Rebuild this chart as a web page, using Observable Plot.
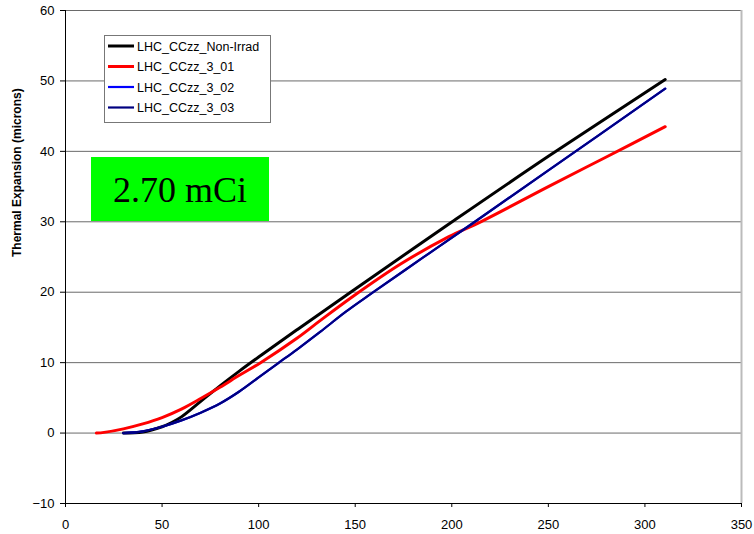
<!DOCTYPE html>
<html><head><meta charset="utf-8">
<script src="https://cdn.jsdelivr.net/npm/d3@7"></script>
<script src="https://cdn.jsdelivr.net/npm/@observablehq/plot@0.6"></script>
<style>body{margin:0;background:#fff;} svg{display:block;}</style>
</head><body><div id="chart"></div>
<script>
// Series names (legend order)
const seriesNames = ["LHC_CCzz_Non-Irrad", "LHC_CCzz_3_01", "LHC_CCzz_3_02", "LHC_CCzz_3_03"];
const seriesColors = ["#000000", "#ff0000", "#0000ff", "#000080"];

// Temperature (x) and thermal expansion (y, microns) per series
const tNonIrrad = [30, 40, 50, 55, 60, 70, 80, 90, 100, 120, 147.6, 200.2, 250, 310.5];
const vNonIrrad = [0, 0.15, 0.9, 1.5, 2.3, 4.5, 6.7, 8.8, 10.8, 14.7, 20.0, 30.0, 39.3, 50.2];

const t3_01 = [16, 20, 30, 40, 50, 60, 70, 80, 90, 101, 120, 132, 149.3, 173.5, 198.5, 215, 250, 280, 310.5];
const v3_01 = [0, 0.1, 0.6, 1.3, 2.2, 3.4, 4.9, 6.5, 8.2, 10.0, 13.5, 16.0, 19.5, 24.0, 27.9, 30.0, 35.0, 39.2, 43.5];

const t3_02 = [30, 40, 50, 60, 70, 80, 90, 100, 110, 120, 132, 145, 158.8, 185, 211.4, 250, 310.5];
const v3_02 = [0, 0.25, 0.9, 1.8, 2.9, 4.2, 5.9, 7.9, 9.9, 11.9, 14.4, 17.2, 19.9, 24.9, 29.9, 37.3, 48.9];

const t3_03 = [30, 40, 50, 60, 70, 80, 90, 100, 110, 120, 132, 145, 158.8, 185, 211.4, 250, 310.5];
const v3_03 = [0, 0.25, 0.9, 1.8, 2.9, 4.2, 5.9, 7.9, 9.9, 11.9, 14.4, 17.2, 19.9, 24.9, 29.9, 37.3, 48.9];

const xTicks = [0, 50, 100, 150, 200, 250, 300, 350];
const yTicks = [-10, 0, 10, 20, 30, 40, 50, 60];
const yLabel = "Thermal Expansion (microns)";
const boxLabel = "2.70 mCi";

const toRows = (ts, vs, s) => ts.map((t, i) => ({t, v: vs[i], s}));
const rows = [
  ...toRows(tNonIrrad, vNonIrrad, seriesNames[0]),
  ...toRows(t3_01, v3_01, seriesNames[1]),
  ...toRows(t3_02, v3_02, seriesNames[2]),
  ...toRows(t3_03, v3_03, seriesNames[3])
];
const strokeW = {[seriesNames[0]]: 3, [seriesNames[1]]: 3, [seriesNames[2]]: 2.2, [seriesNames[3]]: 2.2};

const plot = Plot.plot({
  width: 754, height: 534,
  marginLeft: 65, marginRight: 13, marginTop: 10, marginBottom: 31,
  style: {fontFamily: "'Liberation Sans', Arial, sans-serif", fontSize: "13px", background: "#fff", color: "#000"},
  x: {domain: [0, 350], ticks: xTicks},
  y: {domain: [-10, 60], ticks: yTicks},
  color: {domain: seriesNames, range: seriesColors},
  marks: [
    Plot.ruleY(yTicks.filter(d => d > -10), {stroke: "#6a6a6a", strokeWidth: 1, strokeOpacity: 1}),
    Plot.ruleX([350], {stroke: "#bbb", strokeWidth: 2}),
    Plot.axisX({ticks: xTicks, tickSize: 4, tickPadding: 12, label: null, fontSize: 13, stroke: "#000"}),
    Plot.axisY({ticks: yTicks, tickSize: 5, tickPadding: 6, label: null, fontSize: 13}),
    Plot.ruleX([0], {stroke: "#000", strokeWidth: 1}),
    Plot.ruleY([-10], {stroke: "#000", strokeWidth: 1}),
    ...seriesNames.map(name => Plot.line(rows.filter(d => d.s === name), {
      x: "t", y: "v", stroke: "s", strokeWidth: strokeW[name], curve: "catmull-rom"
    })),
    Plot.text([yLabel], {frameAnchor: "left", dx: -48, rotate: -90, fontWeight: "bold", fontSize: 12})
  ]
});
document.getElementById("chart").appendChild(plot);

// Legend box and annotation box drawn inside the SVG
const svg = d3.select(plot);
const lg = svg.append("g").attr("text-anchor", "start");
lg.append("rect").attr("x", 104.5).attr("y", 35.5).attr("width", 166).attr("height", 87)
  .attr("fill", "#fff").attr("stroke", "#777").attr("stroke-width", 1);
seriesNames.forEach((name, i) => {
  const y = 46 + i * 20.5;
  lg.append("line").attr("x1", 108).attr("x2", 134).attr("y1", y).attr("y2", y)
    .attr("stroke", seriesColors[i]).attr("stroke-width", i < 2 ? 3 : 2.2);
  lg.append("text").attr("x", 137).attr("y", y).attr("dy", "0.36em")
    .attr("text-anchor", "start")
    .attr("font-family", "'Liberation Sans', Arial, sans-serif").attr("font-size", 12.5)
    .attr("fill", "#000").text(name);
});
const ab = svg.append("g");
ab.append("rect").attr("x", 91).attr("y", 157).attr("width", 178).attr("height", 64).attr("fill", "#00ff00");
ab.append("text").attr("x", 180).attr("y", 189).attr("dy", "0.35em").attr("text-anchor", "middle")
  .attr("font-family", "'Liberation Serif', 'Times New Roman', serif").attr("font-size", 36)
  .attr("fill", "#000").text(boxLabel);
</script>
</body></html>
